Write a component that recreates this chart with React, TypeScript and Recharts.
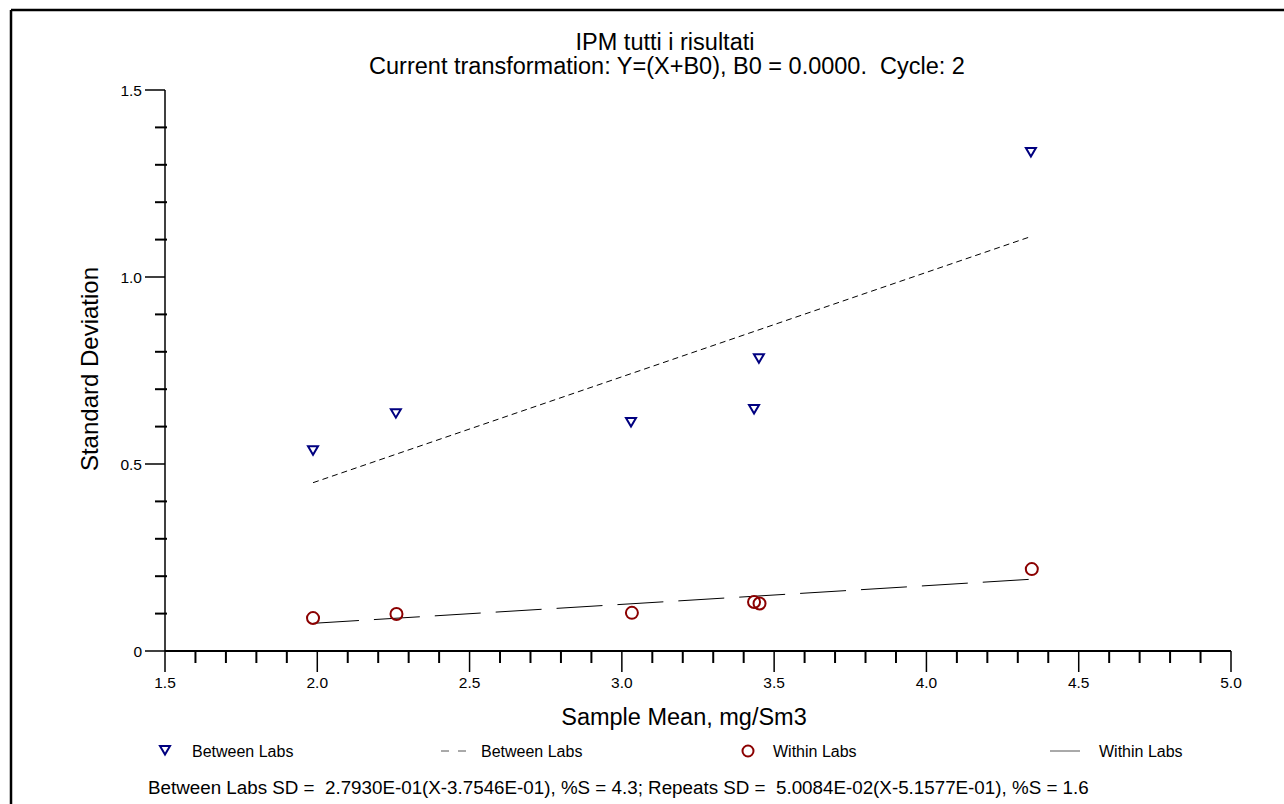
import React from "react";
import { ComposedChart, Scatter, Line, XAxis, YAxis } from "recharts";

const betweenMeans = [1.986, 2.258, 3.03, 3.434, 3.45, 4.343];
const betweenSD = [0.537, 0.636, 0.612, 0.647, 0.783, 1.334];
const withinMeans = [1.986, 2.26, 3.033, 3.434, 3.452, 4.346];
const withinSD = [0.088, 0.099, 0.102, 0.131, 0.127, 0.219];

// fitted lines, read at both ends
const betweenFitX = [1.986, 4.346];
const betweenFitY = [0.45, 1.109];
const withinFitX = [1.986, 4.346];
const withinFitY = [0.074, 0.192];

const xTicks = [
  1.5, 1.6, 1.7, 1.8, 1.9, 2.0, 2.1, 2.2, 2.3, 2.4, 2.5, 2.6, 2.7, 2.8, 2.9,
  3.0, 3.1, 3.2, 3.3, 3.4, 3.5, 3.6, 3.7, 3.8, 3.9, 4.0, 4.1, 4.2, 4.3, 4.4,
  4.5, 4.6, 4.7, 4.8, 4.9, 5.0,
];
const yTicks = [
  0, 0.1, 0.2, 0.3, 0.4, 0.5, 0.6, 0.7, 0.8, 0.9, 1.0, 1.1, 1.2, 1.3, 1.4, 1.5,
];
const yTickLabels: Record<string, string> = { "0": "0", "0.5": "0.5", "1": "1.0", "1.5": "1.5" };

const FONT = '"Liberation Sans", Arial, sans-serif';
const NAVY = "#000080";
const DARKRED = "#8b0000";

const toPoints = (xs: number[], ys: number[]) => xs.map((x, i) => ({ x, y: ys[i] }));

const isMajor = (v: number) => Math.abs(v * 2 - Math.round(v * 2)) < 1e-6;

const XTick = (props: any) => {
  const { x, y, payload } = props;
  const v = payload.value as number;
  const major = isMajor(v);
  return (
    <g>
      <line x1={x} x2={x} y1={y} y2={y + (major ? 21 : 12)} stroke="#000" strokeWidth={major ? 1.5 : 2} />
      {major && (
        <text x={x} y={y + 37} textAnchor="middle" fontSize={15.5} fontFamily={FONT} fill="#000">
          {v.toFixed(1)}
        </text>
      )}
    </g>
  );
};

const YTick = (props: any) => {
  const { x, y, payload } = props;
  const v = payload.value as number;
  const major = isMajor(v);
  const label = yTickLabels[String(v)];
  return (
    <g>
      <line x1={major ? x - 20 : x - 10} x2={major ? x : x + 2} y1={y} y2={y} stroke="#000" strokeWidth={major ? 1.5 : 2} />
      {major && label && (
        <text x={x - 23} y={y + 5.5} textAnchor="end" fontSize={15.5} fontFamily={FONT} fill="#000">
          {label}
        </text>
      )}
    </g>
  );
};

const Triangle = (props: any) => {
  const { cx, cy } = props;
  return (
    <polygon
      points={`${cx - 5},${cy - 4} ${cx + 5},${cy - 4} ${cx},${cy + 4.5}`}
      fill="none"
      stroke={NAVY}
      strokeWidth={2}
    />
  );
};

const Ring = (props: any) => {
  const { cx, cy } = props;
  return <circle cx={cx} cy={cy} r={6} fill="none" stroke={DARKRED} strokeWidth={2} />;
};

export default function App() {
  const between = toPoints(betweenMeans, betweenSD);
  const within = toPoints(withinMeans, withinSD);
  const betweenFit = toPoints(betweenFitX, betweenFitY);
  const withinFit = toPoints(withinFitX, withinFitY);

  return (
    <div style={{ position: "absolute", left: 0, top: 0, width: 1284, height: 804, background: "#fff" }}>
      <ComposedChart
        width={1284}
        height={804}
        margin={{ top: 90, right: 53, bottom: 113, left: 105 }}
      >
        <XAxis
          dataKey="x"
          type="number"
          domain={[1.5, 5]}
          ticks={xTicks}
          interval={0}
          height={40}
          tickSize={0}
          tickMargin={0}
          tickLine={false}
          tick={<XTick />}
          axisLine={{ stroke: "#000", strokeWidth: 2 }}
          allowDataOverflow
        />
        <YAxis
          dataKey="y"
          type="number"
          domain={[0, 1.5]}
          ticks={yTicks}
          interval={0}
          width={60}
          tickSize={0}
          tickMargin={0}
          tickLine={false}
          tick={<YTick />}
          axisLine={{ stroke: "#000", strokeWidth: 1.5 }}
          allowDataOverflow
        />
        <Line
          data={betweenFit}
          dataKey="y"
          stroke="#000"
          strokeWidth={1}
          strokeDasharray="6 4"
          dot={false}
          isAnimationActive={false}
        />
        <Line
          data={withinFit}
          dataKey="y"
          stroke="#000"
          strokeWidth={1}
          strokeDasharray="46 15"
          dot={false}
          isAnimationActive={false}
        />
        <Scatter data={between} dataKey="y" shape={<Triangle />} isAnimationActive={false} />
        <Scatter data={within} dataKey="y" shape={<Ring />} isAnimationActive={false} />
      </ComposedChart>

      <svg
        width={1284}
        height={804}
        style={{ position: "absolute", left: 0, top: 0, pointerEvents: "none" }}
        fontFamily={FONT}
      >
        <line x1={11} y1={10} x2={1284} y2={10} stroke="#000" strokeWidth={2.5} />
        <line x1={11} y1={10} x2={11} y2={804} stroke="#000" strokeWidth={2.5} />

        <text x={665} y={50} textAnchor="middle" fontSize={23.5} fill="#000">
          IPM tutti i risultati
        </text>
        <text x={667} y={74} textAnchor="middle" fontSize={23.5} fill="#000" style={{ whiteSpace: "pre" }}>
          {"Current transformation: Y=(X+B0), B0 = 0.0000.  Cycle: 2"}
        </text>

        <text x={684} y={725} textAnchor="middle" fontSize={23.5} fill="#000">
          Sample Mean, mg/Sm3
        </text>
        <text
          x={0}
          y={0}
          transform="translate(98, 369) rotate(-90)"
          textAnchor="middle"
          fontSize={24}
          fill="#000"
        >
          Standard Deviation
        </text>

        {/* legend */}
        <polygon points="160,746 170,746 165,754.5" fill="none" stroke={NAVY} strokeWidth={2} />
        <text x={192} y={757} fontSize={16} fill="#000">Between Labs</text>
        <line x1={441} y1={751} x2={466} y2={751} stroke="#555" strokeWidth={1} strokeDasharray="8 9" />
        <text x={481} y={757} fontSize={16} fill="#000">Between Labs</text>
        <circle cx={748} cy={751} r={5.5} fill="none" stroke={DARKRED} strokeWidth={2} />
        <text x={773} y={757} fontSize={16} fill="#000">Within Labs</text>
        <line x1={1050} y1={751} x2={1080} y2={751} stroke="#555" strokeWidth={1} />
        <text x={1099} y={757} fontSize={16} fill="#000">Within Labs</text>

        <text x={148} y={794} fontSize={18.8} fill="#000" style={{ whiteSpace: "pre" }}>
          {"Between Labs SD =  2.7930E-01(X-3.7546E-01), %S = 4.3; Repeats SD =  5.0084E-02(X-5.1577E-01), %S = 1.6"}
        </text>
      </svg>
    </div>
  );
}
